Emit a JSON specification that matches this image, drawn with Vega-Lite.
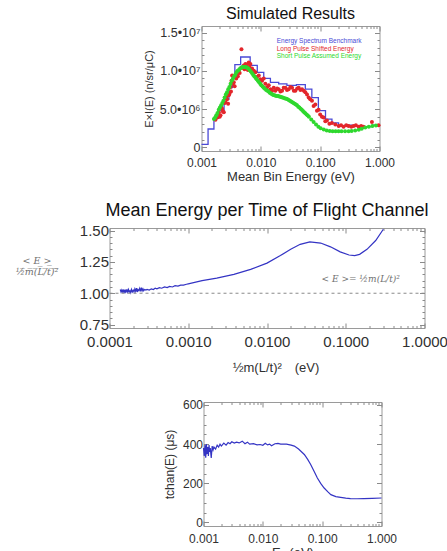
{
  "$schema": "https://vega.github.io/schema/vega-lite/v6.json",
  "background": "white",
  "padding": {"left": 14.5, "top": 5, "right": 0, "bottom": 0},
  "spacing": 17,
  "config": {
    "font": "Liberation Sans",
    "view": {"stroke": "#9a9a9a", "strokeWidth": 1},
    "axis": {"grid": false, "domain": false, "tickColor": "#8a8a8a", "tickWidth": 1, "labelColor": "#303030", "titleColor": "#303030", "titleFontWeight": "normal", "labelFlush": false, "labelOverlap": false, "labelFont": "Liberation Sans", "titleFont": "Liberation Sans"},
    "title": {"fontWeight": "normal", "color": "#111111", "font": "Liberation Sans"}
  },
  "datasets": {
    "benchmark": [
      {"energy": 0.001, "counts": 400000},
      {"energy": 0.00129, "counts": 2400000},
      {"energy": 0.00162, "counts": 3800000},
      {"energy": 0.00195, "counts": 4800000},
      {"energy": 0.0024, "counts": 6300000},
      {"energy": 0.0029, "counts": 7800000},
      {"energy": 0.00331, "counts": 9000000},
      {"energy": 0.00365, "counts": 10800000},
      {"energy": 0.00457, "counts": 11800000},
      {"energy": 0.00661, "counts": 10700000},
      {"energy": 0.00871, "counts": 9800000},
      {"energy": 0.0112, "counts": 9000000},
      {"energy": 0.0145, "counts": 8500000},
      {"energy": 0.02, "counts": 8300000},
      {"energy": 0.0275, "counts": 8100000},
      {"energy": 0.0398, "counts": 8200000},
      {"energy": 0.0562, "counts": 7600000},
      {"energy": 0.0724, "counts": 6500000},
      {"energy": 0.0933, "counts": 4800000},
      {"energy": 0.123, "counts": 3700000},
      {"energy": 0.158, "counts": 3200000},
      {"energy": 0.204, "counts": 2800000},
      {"energy": 0.263, "counts": 2900000},
      {"energy": 0.347, "counts": 2800000},
      {"energy": 0.447, "counts": 2500000},
      {"energy": 0.575, "counts": 2700000},
      {"energy": 0.759, "counts": 2900000},
      {"energy": 1.0, "counts": 2900000}
    ],
    "longpulse": [
      {"energy": 0.00172, "counts": 3600000},
      {"energy": 0.00178, "counts": 4100000},
      {"energy": 0.00184, "counts": 3900000},
      {"energy": 0.0019, "counts": 4400000},
      {"energy": 0.00196, "counts": 4600000},
      {"energy": 0.00203, "counts": 4000000},
      {"energy": 0.00209, "counts": 4200000},
      {"energy": 0.00216, "counts": 5200000},
      {"energy": 0.00223, "counts": 5000000},
      {"energy": 0.0023, "counts": 4700000},
      {"energy": 0.00238, "counts": 4600000},
      {"energy": 0.00246, "counts": 5800000},
      {"energy": 0.00254, "counts": 5900000},
      {"energy": 0.00262, "counts": 6600000},
      {"energy": 0.0027, "counts": 6300000},
      {"energy": 0.00281, "counts": 5700000},
      {"energy": 0.00288, "counts": 6800000},
      {"energy": 0.00296, "counts": 7000000},
      {"energy": 0.00308, "counts": 7900000},
      {"energy": 0.00314, "counts": 7300000},
      {"energy": 0.0032, "counts": 8700000},
      {"energy": 0.00328, "counts": 9400000},
      {"energy": 0.0034, "counts": 8300000},
      {"energy": 0.0035, "counts": 8500000},
      {"energy": 0.00362, "counts": 8000000},
      {"energy": 0.00373, "counts": 9200000},
      {"energy": 0.00385, "counts": 9000000},
      {"energy": 0.00398, "counts": 9600000},
      {"energy": 0.0041, "counts": 9300000},
      {"energy": 0.00425, "counts": 10000000},
      {"energy": 0.0044, "counts": 9700000},
      {"energy": 0.00471, "counts": 12800000},
      {"energy": 0.0049, "counts": 10400000},
      {"energy": 0.00515, "counts": 10700000},
      {"energy": 0.0053, "counts": 10200000},
      {"energy": 0.0055, "counts": 10900000},
      {"energy": 0.0057, "counts": 10400000},
      {"energy": 0.00586, "counts": 10800000},
      {"energy": 0.00605, "counts": 10100000},
      {"energy": 0.00625, "counts": 11100000},
      {"energy": 0.00645, "counts": 10500000},
      {"energy": 0.00667, "counts": 10900000},
      {"energy": 0.0069, "counts": 10200000},
      {"energy": 0.00711, "counts": 10300000},
      {"energy": 0.00735, "counts": 9800000},
      {"energy": 0.0076, "counts": 10000000},
      {"energy": 0.00811, "counts": 9800000},
      {"energy": 0.0086, "counts": 9200000},
      {"energy": 0.00923, "counts": 9400000},
      {"energy": 0.0098, "counts": 8900000},
      {"energy": 0.0105, "counts": 8700000},
      {"energy": 0.0112, "counts": 9000000},
      {"energy": 0.0119, "counts": 8300000},
      {"energy": 0.0127, "counts": 7850000},
      {"energy": 0.0136, "counts": 8100000},
      {"energy": 0.0145, "counts": 7600000},
      {"energy": 0.0155, "counts": 7400000},
      {"energy": 0.0165, "counts": 7800000},
      {"energy": 0.0176, "counts": 7400000},
      {"energy": 0.0188, "counts": 7700000},
      {"energy": 0.02, "counts": 7600000},
      {"energy": 0.0214, "counts": 7300000},
      {"energy": 0.0228, "counts": 7400000},
      {"energy": 0.0243, "counts": 7800000},
      {"energy": 0.0259, "counts": 7800000},
      {"energy": 0.0276, "counts": 7500000},
      {"energy": 0.0294, "counts": 7600000},
      {"energy": 0.0315, "counts": 7900000},
      {"energy": 0.0336, "counts": 7800000},
      {"energy": 0.036, "counts": 7400000},
      {"energy": 0.0382, "counts": 7400000},
      {"energy": 0.041, "counts": 7700000},
      {"energy": 0.0435, "counts": 7800000},
      {"energy": 0.0465, "counts": 7500000},
      {"energy": 0.0494, "counts": 7600000},
      {"energy": 0.053, "counts": 7400000},
      {"energy": 0.0562, "counts": 7200000},
      {"energy": 0.06, "counts": 6900000},
      {"energy": 0.064, "counts": 6500000},
      {"energy": 0.068, "counts": 6300000},
      {"energy": 0.0728, "counts": 6100000},
      {"energy": 0.0776, "counts": 5400000},
      {"energy": 0.0828, "counts": 5600000},
      {"energy": 0.0883, "counts": 4800000},
      {"energy": 0.094, "counts": 4900000},
      {"energy": 0.1, "counts": 4300000},
      {"energy": 0.107, "counts": 4000000},
      {"energy": 0.114, "counts": 3900000},
      {"energy": 0.122, "counts": 3400000},
      {"energy": 0.13, "counts": 3500000},
      {"energy": 0.143, "counts": 3100000},
      {"energy": 0.158, "counts": 3200000},
      {"energy": 0.18, "counts": 3000000},
      {"energy": 0.205, "counts": 2800000},
      {"energy": 0.225, "counts": 2900000},
      {"energy": 0.248, "counts": 2700000},
      {"energy": 0.275, "counts": 2900000},
      {"energy": 0.301, "counts": 2800000},
      {"energy": 0.335, "counts": 2700000},
      {"energy": 0.366, "counts": 2800000},
      {"energy": 0.4, "counts": 2900000},
      {"energy": 0.444, "counts": 2700000},
      {"energy": 0.49, "counts": 2800000},
      {"energy": 0.538, "counts": 2700000},
      {"energy": 0.745, "counts": 3300000},
      {"energy": 0.964, "counts": 2900000}
    ],
    "shortpulse": [
      {"energy": 0.00162, "counts": 3700000},
      {"energy": 0.0017, "counts": 3900000},
      {"energy": 0.00178, "counts": 4200000},
      {"energy": 0.00186, "counts": 4500000},
      {"energy": 0.00195, "counts": 4900000},
      {"energy": 0.00204, "counts": 5200000},
      {"energy": 0.00214, "counts": 5500000},
      {"energy": 0.00224, "counts": 5800000},
      {"energy": 0.00234, "counts": 6100000},
      {"energy": 0.00245, "counts": 6500000},
      {"energy": 0.00257, "counts": 6900000},
      {"energy": 0.00269, "counts": 7200000},
      {"energy": 0.00282, "counts": 7600000},
      {"energy": 0.00295, "counts": 7900000},
      {"energy": 0.00309, "counts": 8300000},
      {"energy": 0.00324, "counts": 8700000},
      {"energy": 0.00339, "counts": 9000000},
      {"energy": 0.00355, "counts": 9300000},
      {"energy": 0.00372, "counts": 9500000},
      {"energy": 0.00389, "counts": 9800000},
      {"energy": 0.00407, "counts": 10000000},
      {"energy": 0.00427, "counts": 10100000},
      {"energy": 0.00447, "counts": 10300000},
      {"energy": 0.00468, "counts": 10400000},
      {"energy": 0.0049, "counts": 10500000},
      {"energy": 0.00513, "counts": 10500000},
      {"energy": 0.00537, "counts": 10500000},
      {"energy": 0.00562, "counts": 10500000},
      {"energy": 0.00589, "counts": 10400000},
      {"energy": 0.00617, "counts": 10300000},
      {"energy": 0.00646, "counts": 10100000},
      {"energy": 0.00676, "counts": 9900000},
      {"energy": 0.00708, "counts": 9700000},
      {"energy": 0.00741, "counts": 9500000},
      {"energy": 0.00776, "counts": 9300000},
      {"energy": 0.00813, "counts": 9100000},
      {"energy": 0.00851, "counts": 8900000},
      {"energy": 0.00891, "counts": 8700000},
      {"energy": 0.00933, "counts": 8500000},
      {"energy": 0.00977, "counts": 8300000},
      {"energy": 0.0102, "counts": 8100000},
      {"energy": 0.0107, "counts": 7950000},
      {"energy": 0.0112, "counts": 7800000},
      {"energy": 0.0117, "counts": 7650000},
      {"energy": 0.0123, "counts": 7500000},
      {"energy": 0.0129, "counts": 7400000},
      {"energy": 0.0135, "counts": 7300000},
      {"energy": 0.0141, "counts": 7150000},
      {"energy": 0.0148, "counts": 7050000},
      {"energy": 0.0155, "counts": 6950000},
      {"energy": 0.0162, "counts": 6850000},
      {"energy": 0.017, "counts": 6800000},
      {"energy": 0.0178, "counts": 6750000},
      {"energy": 0.0186, "counts": 6700000},
      {"energy": 0.0195, "counts": 6700000},
      {"energy": 0.0204, "counts": 6650000},
      {"energy": 0.0214, "counts": 6600000},
      {"energy": 0.0224, "counts": 6550000},
      {"energy": 0.0234, "counts": 6500000},
      {"energy": 0.0245, "counts": 6450000},
      {"energy": 0.0257, "counts": 6400000},
      {"energy": 0.0269, "counts": 6350000},
      {"energy": 0.0282, "counts": 6300000},
      {"energy": 0.0295, "counts": 6200000},
      {"energy": 0.0309, "counts": 6100000},
      {"energy": 0.0324, "counts": 6000000},
      {"energy": 0.0339, "counts": 5900000},
      {"energy": 0.0355, "counts": 5800000},
      {"energy": 0.0372, "counts": 5700000},
      {"energy": 0.0389, "counts": 5600000},
      {"energy": 0.0407, "counts": 5500000},
      {"energy": 0.0427, "counts": 5300000},
      {"energy": 0.0447, "counts": 5200000},
      {"energy": 0.0468, "counts": 5050000},
      {"energy": 0.049, "counts": 4900000},
      {"energy": 0.0513, "counts": 4750000},
      {"energy": 0.0537, "counts": 4600000},
      {"energy": 0.0562, "counts": 4450000},
      {"energy": 0.0589, "counts": 4300000},
      {"energy": 0.0617, "counts": 4150000},
      {"energy": 0.0646, "counts": 4000000},
      {"energy": 0.0708, "counts": 3650000},
      {"energy": 0.0776, "counts": 3300000},
      {"energy": 0.0851, "counts": 3000000},
      {"energy": 0.0933, "counts": 2700000},
      {"energy": 0.102, "counts": 2500000},
      {"energy": 0.115, "counts": 2350000},
      {"energy": 0.129, "counts": 2200000},
      {"energy": 0.145, "counts": 2150000},
      {"energy": 0.162, "counts": 2100000},
      {"energy": 0.182, "counts": 2100000},
      {"energy": 0.204, "counts": 2100000},
      {"energy": 0.229, "counts": 2100000},
      {"energy": 0.263, "counts": 2100000},
      {"energy": 0.302, "counts": 2100000},
      {"energy": 0.339, "counts": 2150000},
      {"energy": 0.389, "counts": 2200000},
      {"energy": 0.447, "counts": 2300000},
      {"energy": 0.501, "counts": 2450000},
      {"energy": 0.575, "counts": 2600000},
      {"energy": 0.661, "counts": 2700000},
      {"energy": 0.759, "counts": 2800000},
      {"energy": 0.871, "counts": 2850000}
    ],
    "meanEnergy": [
      {"energy": 0.000137, "ratio": 1.03},
      {"energy": 0.00014, "ratio": 1.01},
      {"energy": 0.000143, "ratio": 1.025},
      {"energy": 0.000146, "ratio": 1.005},
      {"energy": 0.000149, "ratio": 1.03},
      {"energy": 0.000152, "ratio": 1.01},
      {"energy": 0.000155, "ratio": 1.02},
      {"energy": 0.000158, "ratio": 1.0},
      {"energy": 0.000161, "ratio": 1.03},
      {"energy": 0.000164, "ratio": 1.015},
      {"energy": 0.000167, "ratio": 1.025},
      {"energy": 0.00017, "ratio": 1.01},
      {"energy": 0.000174, "ratio": 1.03},
      {"energy": 0.000178, "ratio": 1.01},
      {"energy": 0.000182, "ratio": 1.02},
      {"energy": 0.000186, "ratio": 1.005},
      {"energy": 0.00019, "ratio": 1.03},
      {"energy": 0.000195, "ratio": 1.01},
      {"energy": 0.0002, "ratio": 1.025},
      {"energy": 0.000205, "ratio": 1.01},
      {"energy": 0.00021, "ratio": 1.035},
      {"energy": 0.000215, "ratio": 1.015},
      {"energy": 0.00022, "ratio": 1.04},
      {"energy": 0.000225, "ratio": 1.01},
      {"energy": 0.00023, "ratio": 1.03},
      {"energy": 0.000236, "ratio": 1.02},
      {"energy": 0.000242, "ratio": 1.04},
      {"energy": 0.000248, "ratio": 1.015},
      {"energy": 0.000254, "ratio": 1.045},
      {"energy": 0.00026, "ratio": 1.02},
      {"energy": 0.000266, "ratio": 1.035},
      {"energy": 0.000272, "ratio": 1.02},
      {"energy": 0.00028, "ratio": 1.03},
      {"energy": 0.00029, "ratio": 1.025},
      {"energy": 0.0003, "ratio": 1.03},
      {"energy": 0.00032, "ratio": 1.025},
      {"energy": 0.00034, "ratio": 1.035},
      {"energy": 0.00036, "ratio": 1.03},
      {"energy": 0.00038, "ratio": 1.04},
      {"energy": 0.0004, "ratio": 1.035},
      {"energy": 0.00043, "ratio": 1.045},
      {"energy": 0.00046, "ratio": 1.04},
      {"energy": 0.0005, "ratio": 1.05},
      {"energy": 0.00054, "ratio": 1.045},
      {"energy": 0.00058, "ratio": 1.055},
      {"energy": 0.00063, "ratio": 1.05},
      {"energy": 0.00068, "ratio": 1.06},
      {"energy": 0.00074, "ratio": 1.057},
      {"energy": 0.0008, "ratio": 1.065},
      {"energy": 0.00087, "ratio": 1.065},
      {"energy": 0.00095, "ratio": 1.072},
      {"energy": 0.001, "ratio": 1.075},
      {"energy": 0.0015, "ratio": 1.1},
      {"energy": 0.0023, "ratio": 1.12},
      {"energy": 0.0038, "ratio": 1.15},
      {"energy": 0.0062, "ratio": 1.19},
      {"energy": 0.01, "ratio": 1.24},
      {"energy": 0.0148, "ratio": 1.3},
      {"energy": 0.02, "ratio": 1.35},
      {"energy": 0.0264, "ratio": 1.39},
      {"energy": 0.035, "ratio": 1.41},
      {"energy": 0.048, "ratio": 1.4},
      {"energy": 0.064, "ratio": 1.37},
      {"energy": 0.085, "ratio": 1.33},
      {"energy": 0.11, "ratio": 1.305},
      {"energy": 0.13, "ratio": 1.3},
      {"energy": 0.15, "ratio": 1.31},
      {"energy": 0.186, "ratio": 1.35},
      {"energy": 0.24, "ratio": 1.42},
      {"energy": 0.3, "ratio": 1.51}
    ],
    "chanTime": [
      {"energy": 0.001, "time": 380},
      {"energy": 0.00103, "time": 340},
      {"energy": 0.00106, "time": 395},
      {"energy": 0.00109, "time": 330},
      {"energy": 0.00112, "time": 400},
      {"energy": 0.00115, "time": 350},
      {"energy": 0.00118, "time": 385},
      {"energy": 0.00121, "time": 340},
      {"energy": 0.00124, "time": 395},
      {"energy": 0.00127, "time": 360},
      {"energy": 0.0013, "time": 380},
      {"energy": 0.00135, "time": 330},
      {"energy": 0.0014, "time": 390},
      {"energy": 0.00145, "time": 370},
      {"energy": 0.0015, "time": 385},
      {"energy": 0.0016, "time": 375},
      {"energy": 0.0017, "time": 395},
      {"energy": 0.0018, "time": 385},
      {"energy": 0.0019, "time": 400},
      {"energy": 0.002, "time": 390},
      {"energy": 0.0022, "time": 405},
      {"energy": 0.0024, "time": 395},
      {"energy": 0.0026, "time": 408},
      {"energy": 0.0028, "time": 402},
      {"energy": 0.003, "time": 412},
      {"energy": 0.0033, "time": 405},
      {"energy": 0.0036, "time": 410},
      {"energy": 0.004, "time": 406},
      {"energy": 0.0045, "time": 415},
      {"energy": 0.005, "time": 402},
      {"energy": 0.0055, "time": 410},
      {"energy": 0.006, "time": 400},
      {"energy": 0.007, "time": 402},
      {"energy": 0.008, "time": 396},
      {"energy": 0.009, "time": 398},
      {"energy": 0.01, "time": 394},
      {"energy": 0.011, "time": 404},
      {"energy": 0.012, "time": 396},
      {"energy": 0.013, "time": 400},
      {"energy": 0.014, "time": 392},
      {"energy": 0.016, "time": 402},
      {"energy": 0.018, "time": 404},
      {"energy": 0.02, "time": 400},
      {"energy": 0.025, "time": 400},
      {"energy": 0.03, "time": 395},
      {"energy": 0.034, "time": 390},
      {"energy": 0.04, "time": 375},
      {"energy": 0.05, "time": 347},
      {"energy": 0.057, "time": 322},
      {"energy": 0.064, "time": 296},
      {"energy": 0.073, "time": 262},
      {"energy": 0.083, "time": 227},
      {"energy": 0.095, "time": 198},
      {"energy": 0.108, "time": 176},
      {"energy": 0.125, "time": 156},
      {"energy": 0.14, "time": 142},
      {"energy": 0.17, "time": 132},
      {"energy": 0.205, "time": 128},
      {"energy": 0.25, "time": 124},
      {"energy": 0.3, "time": 122},
      {"energy": 0.39, "time": 121},
      {"energy": 0.5, "time": 122},
      {"energy": 0.7, "time": 123},
      {"energy": 1.0, "time": 125}
    ]
  },
  "vconcat": [
    {
      "bounds": "flush",
      "spacing": 0,
      "hconcat": [
        {"width": 92, "height": 10, "data": {"values": []}, "mark": "point", "view": {"stroke": null}},
        {
          "width": 178,
          "height": 125,
          "title": {"text": "Simulated Results", "fontSize": 16, "offset": 4},
          "resolve": {"axis": {"x": "independent", "y": "independent"}},
          "layer": [
            {
              "data": {"name": "benchmark"},
              "mark": {"type": "line", "interpolate": "step-after", "color": "#4a4ad6", "strokeWidth": 1.3},
              "encoding": {
                "x": {"field": "energy", "type": "quantitative", "scale": {"type": "log", "domain": [0.001, 1], "nice": false},
                  "axis": {"title": "Mean Bin Energy (eV)", "values": [0.001,0.002,0.003,0.004,0.005,0.006,0.007,0.008,0.009,0.01,0.02,0.03,0.04,0.05,0.06,0.07,0.08,0.09,0.1,0.2,0.3,0.4,0.5,0.6,0.7,0.8,0.9,1],
                    "labelExpr": "indexof([0.001,0.01,0.1,1], datum.value) >= 0 ? format(datum.value, '.3f') : ''",
                    "tickSize": {"condition": {"test": "indexof([0.001,0.01,0.1,1], datum.value) >= 0", "value": -5}, "value": -2.5},
                    "labelFontSize": 12, "labelPadding": 11, "titleFontSize": 13, "titlePadding": 0}},
                "y": {"field": "counts", "type": "quantitative", "scale": {"domain": [-470000, 15850000], "nice": false, "zero": false},
                  "axis": {"title": "E×I(E) (n/sr/μC)", "values": [0,1000000,2000000,3000000,4000000,5000000,6000000,7000000,8000000,9000000,10000000,11000000,12000000,13000000,14000000,15000000],
                    "labelExpr": "datum.value == 0 ? '0' : datum.value == 5000000 ? '5.0•10⁶' : datum.value == 10000000 ? '1.0•10⁷' : datum.value == 15000000 ? '1.5•10⁷' : ''",
                    "tickSize": {"condition": {"test": "datum.value % 5000000 == 0", "value": -5}, "value": -2.5},
                    "labelFontSize": 12.5, "labelPadding": 6.5, "titleFontSize": 11, "titlePadding": 5}}
              }
            },
            {
              "data": {"name": "longpulse"},
              "mark": {"type": "circle", "color": "#e3262b", "size": 16, "opacity": 1},
              "encoding": {
                "x": {"field": "energy", "type": "quantitative", "scale": {"type": "log", "domain": [0.001, 1], "nice": false}, "axis": null},
                "y": {"field": "counts", "type": "quantitative", "scale": {"domain": [-470000, 15850000], "nice": false, "zero": false}, "axis": null}
              }
            },
            {
              "data": {"name": "shortpulse"},
              "mark": {"type": "circle", "color": "#2ed82e", "size": 16, "opacity": 1},
              "encoding": {
                "x": {"field": "energy", "type": "quantitative", "scale": {"type": "log", "domain": [0.001, 1], "nice": false}, "axis": null},
                "y": {"field": "counts", "type": "quantitative", "scale": {"domain": [-470000, 15850000], "nice": false, "zero": false}, "axis": null}
              }
            },
            {
              "data": {"name": "benchmark"},
              "mark": {"type": "point", "opacity": 0},
              "encoding": {
                "x": {"field": "energy", "type": "quantitative", "scale": {"type": "log", "domain": [0.001, 1], "nice": false},
                  "axis": {"orient": "top", "title": null, "labels": false, "values": [0.001,0.002,0.003,0.004,0.005,0.006,0.007,0.008,0.009,0.01,0.02,0.03,0.04,0.05,0.06,0.07,0.08,0.09,0.1,0.2,0.3,0.4,0.5,0.6,0.7,0.8,0.9,1],
                    "tickSize": {"condition": {"test": "indexof([0.001,0.01,0.1,1], datum.value) >= 0", "value": -5}, "value": -2.5}}},
                "y": {"field": "counts", "type": "quantitative", "scale": {"domain": [-470000, 15850000], "nice": false, "zero": false},
                  "axis": {"orient": "right", "title": null, "labels": false, "values": [0,1000000,2000000,3000000,4000000,5000000,6000000,7000000,8000000,9000000,10000000,11000000,12000000,13000000,14000000,15000000],
                    "tickSize": {"condition": {"test": "datum.value % 5000000 == 0", "value": -5}, "value": -2.5}}}
              }
            },
            {
              "data": {"values": [{}]},
              "mark": {"type": "text", "text": "Energy Spectrum Benchmark", "align": "left", "baseline": "middle", "fontSize": 6.5, "color": "#4a4ad6"},
              "encoding": {
                "x": {"datum": 0.0185, "type": "quantitative", "scale": {"type": "log", "domain": [0.001, 1], "nice": false}, "axis": null},
                "y": {"datum": 13900000, "type": "quantitative", "scale": {"domain": [-470000, 15850000], "nice": false, "zero": false}, "axis": null}
              }
            },
            {
              "data": {"values": [{}]},
              "mark": {"type": "text", "text": "Long Pulse Shifted Energy", "align": "left", "baseline": "middle", "fontSize": 6.5, "color": "#e3262b"},
              "encoding": {
                "x": {"datum": 0.0185, "type": "quantitative", "scale": {"type": "log", "domain": [0.001, 1], "nice": false}, "axis": null},
                "y": {"datum": 12900000, "type": "quantitative", "scale": {"domain": [-470000, 15850000], "nice": false, "zero": false}, "axis": null}
              }
            },
            {
              "data": {"values": [{}]},
              "mark": {"type": "text", "text": "Short Pulse Assumed Energy", "align": "left", "baseline": "middle", "fontSize": 6.5, "color": "#2ed82e"},
              "encoding": {
                "x": {"datum": 0.0185, "type": "quantitative", "scale": {"type": "log", "domain": [0.001, 1], "nice": false}, "axis": null},
                "y": {"datum": 11900000, "type": "quantitative", "scale": {"domain": [-470000, 15850000], "nice": false, "zero": false}, "axis": null}
              }
            }
          ]
        }
      ]
    },
    {
      "width": 315,
      "height": 100,
      "title": {"text": "Mean Energy per Time of Flight Channel", "fontSize": 18, "offset": 4},
      "resolve": {"axis": {"x": "independent", "y": "independent"}},
      "layer": [
        {
          "data": {"name": "meanEnergy"},
          "mark": {"type": "line", "color": "#3434c4", "strokeWidth": 1.2, "clip": true},
          "encoding": {
            "x": {"field": "energy", "type": "quantitative", "scale": {"type": "log", "domain": [0.0001, 1], "nice": false},
              "axis": {"title": "½m(L/t)²\u2003(eV)", "values": [0.0001,0.0002,0.0003,0.0004,0.0005,0.0006,0.0007,0.0008,0.0009,0.001,0.002,0.003,0.004,0.005,0.006,0.007,0.008,0.009,0.01,0.02,0.03,0.04,0.05,0.06,0.07,0.08,0.09,0.1,0.2,0.3,0.4,0.5,0.6,0.7,0.8,0.9,1],
                "labelExpr": "indexof([0.0001,0.001,0.01,0.1,1], datum.value) >= 0 ? format(datum.value, '.4f') : ''",
                "tickSize": {"condition": {"test": "indexof([0.0001,0.001,0.01,0.1,1], datum.value) >= 0", "value": -5}, "value": -2.5},
                "labelFontSize": 15, "labelPadding": 11, "titleFontSize": 13, "titlePadding": 10, "titleX": 166}},
            "y": {"field": "ratio", "type": "quantitative", "scale": {"domain": [0.723, 1.52], "nice": false, "zero": false},
              "axis": {"title": ["< E >", "½\u0305m\u0305(\u0305L\u0305/\u0305t\u0305)\u0305²\u0305"], "values": [0.75,0.8,0.85,0.9,0.95,1,1.05,1.1,1.15,1.2,1.25,1.3,1.35,1.4,1.45,1.5],
                "labelExpr": "indexof([0.75,1,1.25,1.5], datum.value) >= 0 ? format(datum.value, '.2f') : ''",
                "tickSize": {"condition": {"test": "indexof([0.75,1,1.25,1.5], datum.value) >= 0", "value": -5}, "value": -2.5},
                "labelFontSize": 15, "labelPadding": 6,
                "titleAngle": 0, "titleAlign": "center", "titleBaseline": "middle", "titleX": -73, "titleY": 32,
                "titleFont": "DejaVu Serif", "titleFontStyle": "italic", "titleFontSize": 9.5, "titleLineHeight": 11, "titleColor": "#707070"}}
          }
        },
        {
          "data": {"values": [{}]},
          "mark": {"type": "rule", "color": "#8a8a8a", "strokeDash": [3, 3], "strokeWidth": 1},
          "encoding": {
            "y": {"datum": 1, "type": "quantitative", "scale": {"domain": [0.723, 1.52], "nice": false, "zero": false}, "axis": null}
          }
        },
        {
          "data": {"values": [{}]},
          "mark": {"type": "text", "text": "< E >= ½m(L/t)²", "align": "center", "baseline": "middle", "font": "DejaVu Serif", "fontStyle": "italic", "fontSize": 9, "color": "#707070"},
          "encoding": {
            "x": {"datum": 0.155, "type": "quantitative", "scale": {"type": "log", "domain": [0.0001, 1], "nice": false}, "axis": null},
            "y": {"datum": 1.115, "type": "quantitative", "scale": {"domain": [0.723, 1.52], "nice": false, "zero": false}, "axis": null}
          }
        },
        {
          "data": {"name": "meanEnergy"},
          "mark": {"type": "point", "opacity": 0},
          "encoding": {
            "x": {"field": "energy", "type": "quantitative", "scale": {"type": "log", "domain": [0.0001, 1], "nice": false},
              "axis": {"orient": "top", "title": null, "labels": false, "values": [0.0001,0.0002,0.0003,0.0004,0.0005,0.0006,0.0007,0.0008,0.0009,0.001,0.002,0.003,0.004,0.005,0.006,0.007,0.008,0.009,0.01,0.02,0.03,0.04,0.05,0.06,0.07,0.08,0.09,0.1,0.2,0.3,0.4,0.5,0.6,0.7,0.8,0.9,1],
                "tickSize": {"condition": {"test": "indexof([0.0001,0.001,0.01,0.1,1], datum.value) >= 0", "value": -5}, "value": -2.5}}},
            "y": {"field": "ratio", "type": "quantitative", "scale": {"domain": [0.723, 1.52], "nice": false, "zero": false},
              "axis": {"orient": "right", "title": null, "labels": false, "values": [0.75,0.8,0.85,0.9,0.95,1,1.05,1.1,1.15,1.2,1.25,1.3,1.35,1.4,1.45,1.5],
                "tickSize": {"condition": {"test": "indexof([0.75,1,1.25,1.5], datum.value) >= 0", "value": -5}, "value": -2.5}}}
          }
        }
      ]
    },
    {
      "bounds": "flush",
      "spacing": 0,
      "hconcat": [
        {"width": 94, "height": 10, "data": {"values": []}, "mark": "point", "view": {"stroke": null}},
        {
          "width": 178,
          "height": 124,
          "title": {"text": " ", "fontSize": 2, "offset": 4},
          "resolve": {"axis": {"x": "independent", "y": "independent"}},
          "layer": [
            {
              "data": {"name": "chanTime"},
              "mark": {"type": "line", "color": "#3434c4", "strokeWidth": 1.2},
              "encoding": {
                "x": {"field": "energy", "type": "quantitative", "scale": {"type": "log", "domain": [0.001, 1], "nice": false},
                  "axis": {"title": "Eₙ (eV)", "values": [0.001,0.002,0.003,0.004,0.005,0.006,0.007,0.008,0.009,0.01,0.02,0.03,0.04,0.05,0.06,0.07,0.08,0.09,0.1,0.2,0.3,0.4,0.5,0.6,0.7,0.8,0.9,1],
                    "labelExpr": "indexof([0.001,0.01,0.1,1], datum.value) >= 0 ? format(datum.value, '.3f') : ''",
                    "tickSize": {"condition": {"test": "indexof([0.001,0.01,0.1,1], datum.value) >= 0", "value": -5}, "value": -2.5},
                    "labelFontSize": 12, "labelPadding": 12, "titleFontSize": 13, "titlePadding": 0}},
                "y": {"field": "time", "type": "quantitative", "scale": {"domain": [-18, 615], "nice": false, "zero": false},
                  "axis": {"title": "tchan(E) (μs)", "values": [0,50,100,150,200,250,300,350,400,450,500,550,600],
                    "labelExpr": "datum.value % 200 == 0 ? format(datum.value, 'd') : ''",
                    "tickSize": {"condition": {"test": "datum.value % 200 == 0", "value": -5}, "value": -2.5},
                    "labelFontSize": 12, "labelPadding": 6, "titleFontSize": 12, "titlePadding": 6}}
              }
            },
            {
              "data": {"name": "chanTime"},
              "mark": {"type": "point", "opacity": 0},
              "encoding": {
                "x": {"field": "energy", "type": "quantitative", "scale": {"type": "log", "domain": [0.001, 1], "nice": false},
                  "axis": {"orient": "top", "title": null, "labels": false, "values": [0.001,0.002,0.003,0.004,0.005,0.006,0.007,0.008,0.009,0.01,0.02,0.03,0.04,0.05,0.06,0.07,0.08,0.09,0.1,0.2,0.3,0.4,0.5,0.6,0.7,0.8,0.9,1],
                    "tickSize": {"condition": {"test": "indexof([0.001,0.01,0.1,1], datum.value) >= 0", "value": -5}, "value": -2.5}}},
                "y": {"field": "time", "type": "quantitative", "scale": {"domain": [-18, 615], "nice": false, "zero": false},
                  "axis": {"orient": "right", "title": null, "labels": false, "values": [0,50,100,150,200,250,300,350,400,450,500,550,600],
                    "tickSize": {"condition": {"test": "datum.value % 200 == 0", "value": -5}, "value": -2.5}}}
              }
            }
          ]
        }
      ]
    }
  ]
}
